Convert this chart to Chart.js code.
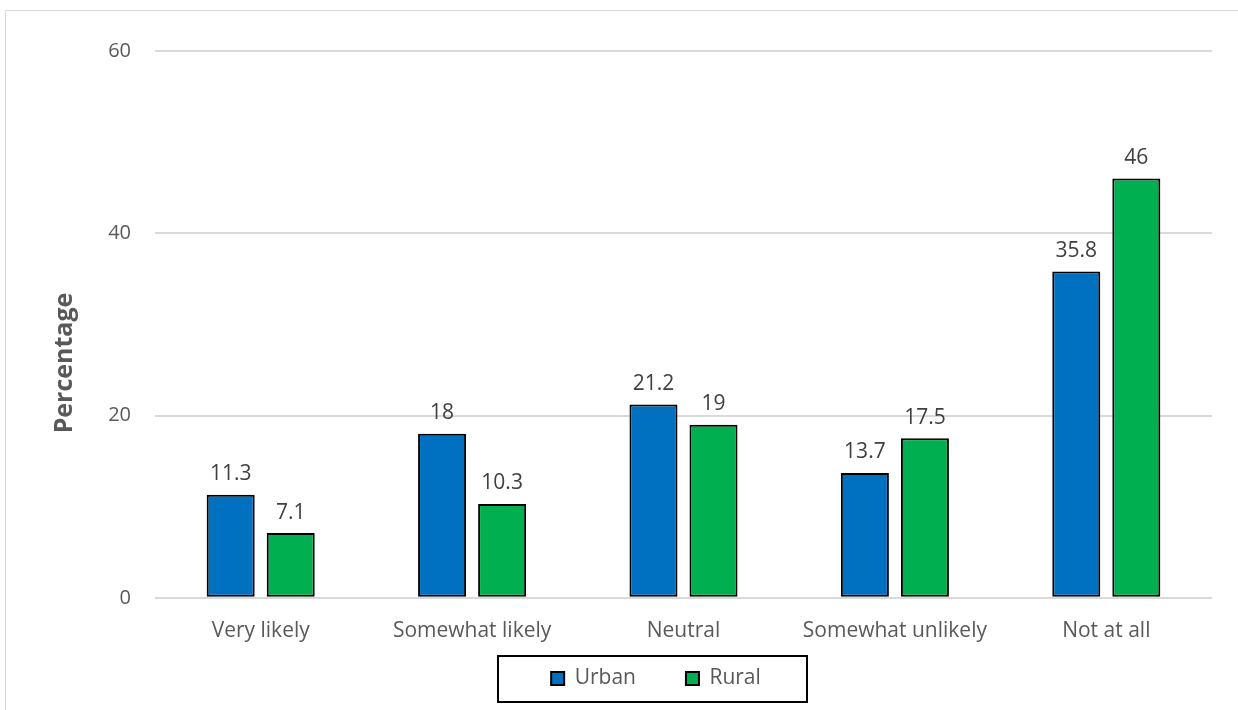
<!DOCTYPE html>
<html>
<head>
<meta charset="utf-8">
<script src="https://cdn.jsdelivr.net/npm/chart.js@4"></script>
<style>
  html, body { margin: 0; padding: 0; background: #fff; overflow: hidden; }
  #wrap { width: 1238px; height: 710px; }
</style>
</head>
<body>
<div id="wrap"><canvas id="chart" width="1238" height="710"></canvas></div>
<script>
const categories = ['Very likely', 'Somewhat likely', 'Neutral', 'Somewhat unlikely', 'Not at all'];
const urban = [11.3, 18, 21.2, 13.7, 35.8];
const rural = [7.1, 10.3, 19, 17.5, 46];
const yTicks = [0, 20, 40, 60];
const yTitle = 'Percentage';

const FONT = "'Open Sans', sans-serif";
const TEXT = '#595959';

// outer frame of the chart object
const framePlugin = {
    id: 'frame',
    beforeDraw(chart) {
        const ctx = chart.ctx;
        ctx.save();
        ctx.fillStyle = '#fff';
        ctx.fillRect(0, 0, chart.width, chart.height);
        ctx.strokeStyle = '#d9d9d9';
        ctx.lineWidth = 1;
        ctx.strokeRect(5.5, 10.5, chart.width + 20, chart.height + 20);
        ctx.restore();
    }
};

// nudge the legend: a bit right of centre and up under the axis labels
const legendShift = {
    id: 'legendShift',
    afterLayout(chart) {
        const lg = chart.legend;
        lg.left += 50;
        lg.right += 50;
        lg.top -= 39;
        lg.bottom -= 39;
    }
};

// rotated y axis title, centred on the whole chart height
const yTitlePlugin = {
    id: 'yTitle',
    afterDraw(chart) {
        const ctx = chart.ctx;
        ctx.save();
        ctx.translate(65, 363);
        ctx.rotate(-Math.PI / 2);
        ctx.font = `bold 25px ${FONT}`;
        ctx.fillStyle = TEXT;
        ctx.textAlign = 'center';
        ctx.textBaseline = 'middle';
        ctx.fillText(yTitle, 0, 0);
        ctx.restore();
    }
};

// value labels above each bar
const valueLabels = {
    id: 'valueLabels',
    afterDatasetsDraw(chart) {
        const ctx = chart.ctx;
        ctx.save();
        ctx.font = `21px ${FONT}`;
        ctx.fillStyle = '#404040';
        ctx.textAlign = 'center';
        ctx.textBaseline = 'bottom';
        chart.data.datasets.forEach((ds, i) => {
            chart.getDatasetMeta(i).data.forEach((bar, j) => {
                ctx.fillText(String(ds.data[j]), bar.x, bar.y - 10);
            });
        });
        ctx.restore();
    }
};

// box around the legend
const legendBox = {
    id: 'legendBox',
    afterDraw(chart) {
        const lg = chart.legend;
        if (!lg || !lg.legendHitBoxes.length) return;
        const hb = lg.legendHitBoxes;
        const left = Math.min(...hb.map(h => h.left)) - 53;
        const right = Math.max(...hb.map(h => h.left + h.width)) + 46;
        const cy = hb[0].top + hb[0].height / 2;
        const ctx = chart.ctx;
        ctx.save();
        ctx.strokeStyle = '#000';
        ctx.lineWidth = 2;
        ctx.strokeRect(Math.round(left), Math.round(cy - 23), Math.round(right - left), 46);
        ctx.restore();
    }
};

new Chart(document.getElementById('chart'), {
    type: 'bar',
    data: {
        labels: categories,
        datasets: [
            { label: 'Urban', data: urban, backgroundColor: '#0070C0', borderColor: '#000', borderWidth: 2, borderSkipped: false },
            { label: 'Rural', data: rural, backgroundColor: '#00B050', borderColor: '#000', borderWidth: 2, borderSkipped: false }
        ]
    },
    options: {
        responsive: false,
        animation: false,
        categoryPercentage: 0.568,
        barPercentage: 0.8,
        layout: { padding: { top: 51, right: 26, bottom: -28, left: 0 } },
        scales: {
            x: {
                grid: { display: false },
                border: { display: false },
                ticks: { color: TEXT, font: { family: FONT, size: 21 }, padding: 13, maxRotation: 0 }
            },
            y: {
                min: 0,
                max: 60,
                afterBuildTicks(scale) { scale.ticks = yTicks.map(v => ({ value: v })); },
                grid: { color: '#d9d9d9', lineWidth: 2, drawTicks: false },
                border: { display: false },
                ticks: { color: TEXT, font: { family: FONT, size: 20 }, padding: 24 },
                afterFit(scale) { scale.width = 155; }
            }
        },
        plugins: {
            legend: {
                position: 'bottom',
                labels: {
                    color: TEXT,
                    font: { family: FONT, size: 21 },
                    boxWidth: 13,
                    boxHeight: 13,
                    padding: 50
                }
            },
            tooltip: { enabled: false }
        }
    },
    plugins: [framePlugin, legendShift, yTitlePlugin, valueLabels, legendBox]
});
</script>
</body>
</html>
